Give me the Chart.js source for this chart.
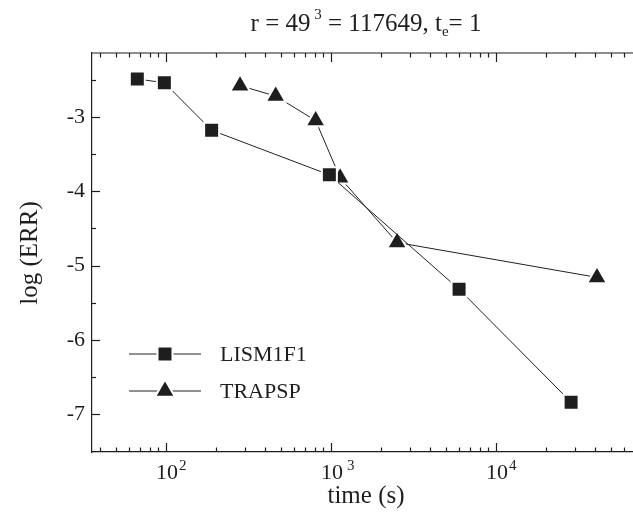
<!DOCTYPE html>
<html lang="en">
<head>
<meta charset="UTF-8">
<script src="https://cdn.jsdelivr.net/npm/chart.js"></script>
<style>
  body { margin: 0; background: #fff; }
  #wrap { width: 633px; height: 528px; }
</style>
</head>
<body>
<div id="wrap"><canvas id="chart" width="633" height="528"></canvas></div>
<script>
  // values
  const timeTicks = [100, 1000, 10000];
  const errTicks = [-3, -4, -5, -6, -7];
  const lismTime = [67, 97.7, 189, 977, 5970, 28500];
  const lismErr = [-2.49, -2.54, -3.18, -3.78, -5.32, -6.84];
  const trapTime = [281, 462, 807, 1135, 2513, 40900];
  const trapErr = [-2.58, -2.72, -3.05, -3.82, -4.69, -5.16];
  const seriesNames = ['LISM1F1', 'TRAPSP'];

  const ink = '#1e1e1e';
  const serif = '"Liberation Serif", "DejaVu Serif", serif';

  // frame, inward ticks, labels with superscripts, titles, legend
  const decor = {
    id: 'decor',
    afterDraw(chart) {
      const { ctx, chartArea: a, scales: { x, y } } = chart;
      ctx.save();
      ctx.strokeStyle = ink;
      ctx.fillStyle = ink;
      ctx.lineWidth = 1.2;

      const seg = (x1, y1, x2, y2) => {
        ctx.beginPath(); ctx.moveTo(x1, y1); ctx.lineTo(x2, y2); ctx.stroke();
      };

      // top frame line
      seg(a.left, a.top, chart.width, a.top);

      // x ticks (bottom and top), majors at decades
      [10, 100, 1000, 10000].forEach(d => {
        for (let m = 1; m <= 9; m++) {
          const v = m * d;
          if (v < x.min || v > x.max) continue;
          const px = Math.round(x.getPixelForValue(v)) + 0.5;
          const len = m === 1 ? 9 : 4.5;
          seg(px, a.bottom, px, a.bottom - len);
          seg(px, a.top, px, a.top + len);
        }
      });

      // y ticks, majors at integers, minors halfway
      for (let v = -7.5; v <= -2; v += 0.5) {
        if (v < y.min || v > y.max) continue;
        const py = Math.round(y.getPixelForValue(v)) + 0.5;
        const len = Number.isInteger(v) ? 8 : 4;
        seg(a.left, py, a.left + len, py);
      }

      // x tick labels: 10 with exponent
      ctx.textAlign = 'left';
      ctx.textBaseline = 'alphabetic';
      timeTicks.forEach(t => {
        const px = x.getPixelForValue(t);
        const e = Math.round(Math.log10(t));
        ctx.font = '22px ' + serif;
        ctx.fillText('10', px - 10, 479);
        const w = ctx.measureText('10').width;
        ctx.font = '15px ' + serif;
        ctx.fillText(String(e), px - 10 + w + (e === 3 ? 4 : 1), 470);
      });

      // axis titles
      ctx.font = '25px ' + serif;
      ctx.textAlign = 'center';
      ctx.fillText('time (s)', 366, 503);
      ctx.save();
      ctx.translate(37, 253);
      ctx.rotate(-Math.PI / 2);
      ctx.fillText('log (ERR)', 0, 0);
      ctx.restore();

      // main title
      const parts = [
        { t: 'r = 49', f: 25, dy: 0 },
        { t: ' 3', f: 15, dy: -12 },
        { t: ' = 117649, t', f: 25, dy: 0 },
        { t: 'e', f: 15, dy: 5 },
        { t: '= 1', f: 25, dy: 0 }
      ];
      let total = 0;
      parts.forEach(p => { ctx.font = p.f + 'px ' + serif; p.w = ctx.measureText(p.t).width; total += p.w; });
      let cx = 366 - total / 2;
      ctx.textAlign = 'left';
      parts.forEach(p => {
        ctx.font = p.f + 'px ' + serif;
        ctx.fillText(p.t, cx, 31 + p.dy);
        cx += p.w;
      });

      // legend: line, marker, name
      chart.data.datasets.forEach((ds, i) => {
        const ly = 354 + i * 37;
        ctx.strokeStyle = ds.borderColor;
        ctx.lineWidth = 1;
        seg(129, ly, 201, ly);
        ctx.fillStyle = ds.pointBackgroundColor;
        ctx.strokeStyle = ds.pointBorderColor;
        ctx.lineWidth = ds.pointBorderWidth;
        Chart.helpers.drawPoint(ctx, {
          pointStyle: ds.pointStyle,
          radius: ds.pointRadius,
          rotation: 0,
          borderWidth: ds.pointBorderWidth
        }, 165, ly);
        ctx.fillStyle = ink;
        ctx.font = '22px ' + serif;
        ctx.textBaseline = 'middle';
        ctx.fillText(seriesNames[i], 220, ly + 1);
        ctx.textBaseline = 'alphabetic';
      });

      ctx.restore();
    }
  };

  new Chart(document.getElementById('chart'), {
    type: 'line',
    data: {
      datasets: [
        {
          label: seriesNames[0],
          data: lismTime.map((t, i) => ({ x: t, y: lismErr[i] })),
          borderColor: '#222',
          borderWidth: 1,
          pointStyle: 'rect',
          pointRadius: 10.6,
          pointBackgroundColor: ink,
          pointBorderColor: '#fff',
          pointBorderWidth: 2,
          tension: 0
        },
        {
          label: seriesNames[1],
          data: trapTime.map((t, i) => ({ x: t, y: trapErr[i] })),
          borderColor: '#222',
          borderWidth: 1,
          pointStyle: 'triangle',
          pointRadius: 11.5,
          pointBackgroundColor: ink,
          pointBorderColor: '#fff',
          pointBorderWidth: 2,
          tension: 0
        }
      ]
    },
    options: {
      responsive: false,
      animation: false,
      layout: { autoPadding: false, padding: { top: 53, left: 0, right: 0, bottom: 0 } },
      plugins: { legend: { display: false }, title: { display: false }, tooltip: { enabled: false } },
      scales: {
        x: {
          type: 'logarithmic',
          min: 35.6,
          max: 67600,
          grid: { display: false, drawTicks: false },
          border: { display: true, color: ink, width: 1.2 },
          ticks: { display: false },
          afterBuildTicks: s => { s.ticks = timeTicks.map(v => ({ value: v })); },
          afterFit: s => { s.height = 76; s.paddingLeft = 0; s.paddingRight = 0; }
        },
        y: {
          min: -7.51,
          max: -2.14,
          grid: { display: false, drawTicks: false },
          border: { display: true, color: ink, width: 1.2 },
          ticks: {
            color: ink,
            padding: 7,
            font: { family: serif, size: 22 },
            callback: v => String(v)
          },
          afterBuildTicks: s => { s.ticks = errTicks.map(v => ({ value: v })); },
          afterFit: s => { s.width = 92; s.paddingTop = 0; s.paddingBottom = 0; }
        }
      }
    },
    plugins: [decor]
  });
</script>
</body>
</html>
